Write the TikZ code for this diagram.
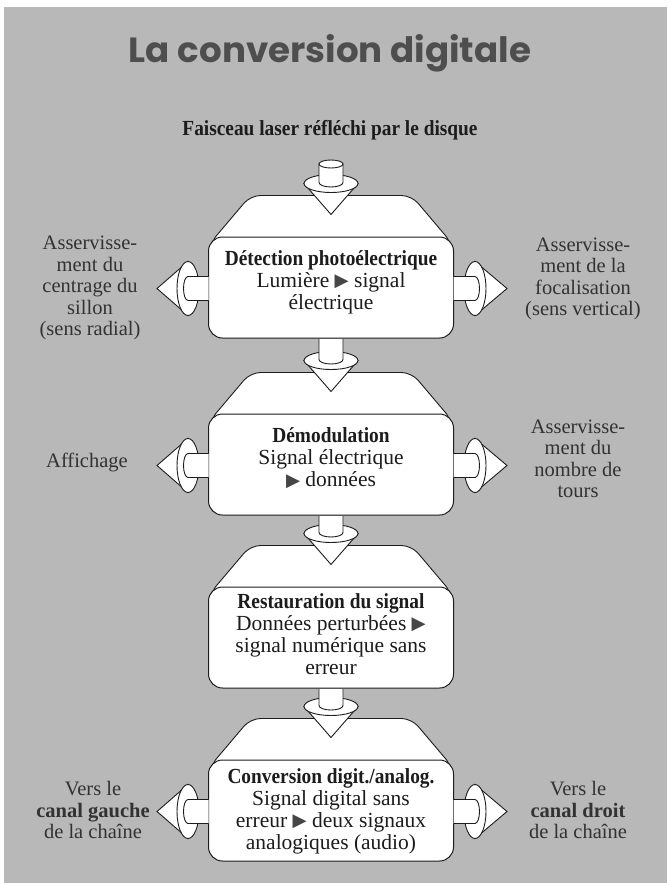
\documentclass[tikz,border=0pt]{standalone}
\usepackage{fontspec}
\usepackage{graphicx}
\setmainfont{Liberation Serif}
\newfontfamily\titlefont{Poppins}
\newfontfamily\symfont{DejaVu Sans}
\usetikzlibrary{calc}
\pgfdeclarelayer{bgpaper}
\pgfdeclarelayer{back}
\pgfsetlayers{bgpaper,back,main}

\definecolor{paper}{RGB}{184,184,184}
\definecolor{ink}{RGB}{28,28,28}
\definecolor{sideink}{RGB}{50,50,50}
\definecolor{titleink}{RGB}{78,78,78}
\definecolor{triink}{RGB}{70,70,70}

\newcommand\tri{{\symfont\color{triink}\raisebox{0.5pt}{\scalebox{0.85}{▶}}}}
\newcommand\bhead[1]{\textbf{\scalebox{0.9}[1]{#1}}}

\tikzset{
  stagebox/.style={draw=ink, line width=1pt, fill=white, rounded corners=14pt,
    minimum width=245pt, minimum height=101pt, inner sep=0pt},
  boxtext/.style={align=center, font=\fontsize{21.5}{22}\selectfont, text=ink, inner sep=0pt},
  sidetext/.style={align=center, font=\fontsize{20.5}{21.5}\selectfont, text=sideink, inner sep=0pt},
  part/.style={draw=ink, line width=0.9pt, fill=white},
}

% trapezoid (top face) of a stage, behind the node
\newcommand\trap[1]{%
  \begin{pgfonlayer}{back}
    \draw[part, rounded corners=10pt] ($(#1.north)+(-80.5,-41)$) -- ($(#1.north)+(80.5,-41)$)
      -- ($(#1.north)+(122,8)$) -- ($(#1.north)+(-122,8)$) -- cycle;
  \end{pgfonlayer}}

% cone entering the top face of stage #1
\newcommand\cone[1]{%
  \coordinate (e#1) at ($(#1.north)+(0,-53)$);
  \coordinate (tip#1) at ($(#1.north)+(0,-22)$);
  \draw[part] ($(e#1)+(-27,0)$) -- (tip#1) -- ($(e#1)+(27,0)$) -- cycle;
  \draw[part] (e#1) ellipse [x radius=27pt, y radius=9pt];}

% shaft from stage #1 down to the cone of stage #2
\newcommand\vconn[2]{%
  \cone{#2}
  \draw[part] ($(#1.south)+(-12,0.5)$) -- ($(e#2)+(-12,-1)$)
    arc[start angle=180, end angle=360, x radius=12pt, y radius=4.5pt]
    -- ($(#1.south)+(12,0.5)$);}

\newcommand\leftarm[1]{%
  \coordinate (el#1) at ($(#1.west)+(-20,1)$);
  \draw[part] ($(el#1)+(0,-27)$) -- ($(el#1)+(-31,0)$) -- ($(el#1)+(0,27)$) -- cycle;
  \draw[part] (el#1) ellipse [x radius=11pt, y radius=27pt];
  \draw[part] ($(#1.west)+(0.5,-11)$) -- ($(el#1)+(0,-12)$)
    arc[start angle=90, end angle=270, x radius=4.5pt, y radius=12pt]
    -- ($(#1.west)+(0.5,13)$);}

\newcommand\rightarm[1]{%
  \coordinate (er#1) at ($(#1.east)+(21,1)$);
  \draw[part] ($(er#1)+(0,-27)$) -- ($(er#1)+(32,0)$) -- ($(er#1)+(0,27)$) -- cycle;
  \draw[part] (er#1) ellipse [x radius=11pt, y radius=27pt];
  \draw[part] ($(#1.east)+(-0.5,-11)$) -- ($(er#1)+(0,-12)$)
    arc[start angle=90, end angle=-90, x radius=4.5pt, y radius=12pt]
    -- ($(#1.east)+(-0.5,13)$);}

\begin{document}
\begin{tikzpicture}[x=1pt, y=-1pt]
  \useasboundingbox (0,0) rectangle (667,883);
  \begin{pgfonlayer}{bgpaper}
    \fill[white] (0,0) rectangle (667,883);
    \fill[paper] (4,7) rectangle (667,883);
  \end{pgfonlayer}

  % title and source
  \node[anchor=base, text=titleink, inner sep=0pt] (title) at (330,63)
    {\resizebox{402pt}{28pt}{\titlefont\bfseries La conversion digitale}};
  \node[text=ink, inner sep=0pt] (sub) at (330,130)
    {\fontsize{21.5}{22}\selectfont\bfseries\scalebox{0.9}[1]{Faisceau laser réfléchi par le disque}};

  % stages
  \node[stagebox] (s1) at (331,287.5) {};
  \node[stagebox] (s2) at (331,464.5) {};
  \node[stagebox] (s3) at (331,637.5) {};
  \node[stagebox] (s4) at (331,810.5) {};
  \trap{s1}\trap{s2}\trap{s3}\trap{s4}

  \node[boxtext] (t1) at (331,282) {\bhead{Détection photoélectrique}\\Lumière \tri{} signal\\électrique};
  \node[boxtext] (t2) at (331,458) {\bhead{Démodulation}\\Signal électrique\\\tri{} données};
  \node[boxtext] (t3) at (331,634) {\bhead{Restauration du signal}\\Données perturbées \tri\\signal numérique sans\\erreur};
  \node[boxtext] (t4) at (331,811) {\bhead{Conversion digit./analog.}\\Signal digital sans\\erreur \tri{} deux signaux\\analogiques (audio)};

  % input beam
  \coordinate (in) at (331,164);
  \cone{s1}
  \draw[part] ($(in)+(-12,0)$) -- ($(es1)+(-12,-1)$)
    arc[start angle=180, end angle=360, x radius=12pt, y radius=4.5pt]
    -- ($(in)+(12,0)$) -- cycle;
  \draw[part] (in) ellipse [x radius=12pt, y radius=4pt];

  % vertical connectors
  \vconn{s1}{s2}
  \vconn{s2}{s3}
  \vconn{s3}{s4}

  % side arms
  \leftarm{s1}\rightarm{s1}
  \leftarm{s2}\rightarm{s2}
  \leftarm{s4}\rightarm{s4}

  % side texts
  \node[sidetext] (l1) at (90,288) {Asservisse-\\ment du\\centrage du\\sillon\\(sens radial)};
  \node[sidetext] (r1) at (583,279) {Asservisse-\\ment de la\\focalisation\\(sens vertical)};
  \node[sidetext] (l2) at (87,462) {Affichage};
  \node[sidetext] (r2) at (578,459) {Asservisse-\\ment du\\nombre de\\tours};
  \node[sidetext] (l4) at (93,810) {Vers le\\\textbf{canal gauche}\\de la chaîne};
  \node[sidetext] (r4) at (578,810) {Vers le\\\textbf{canal droit}\\de la chaîne};
\end{tikzpicture}
\end{document}
